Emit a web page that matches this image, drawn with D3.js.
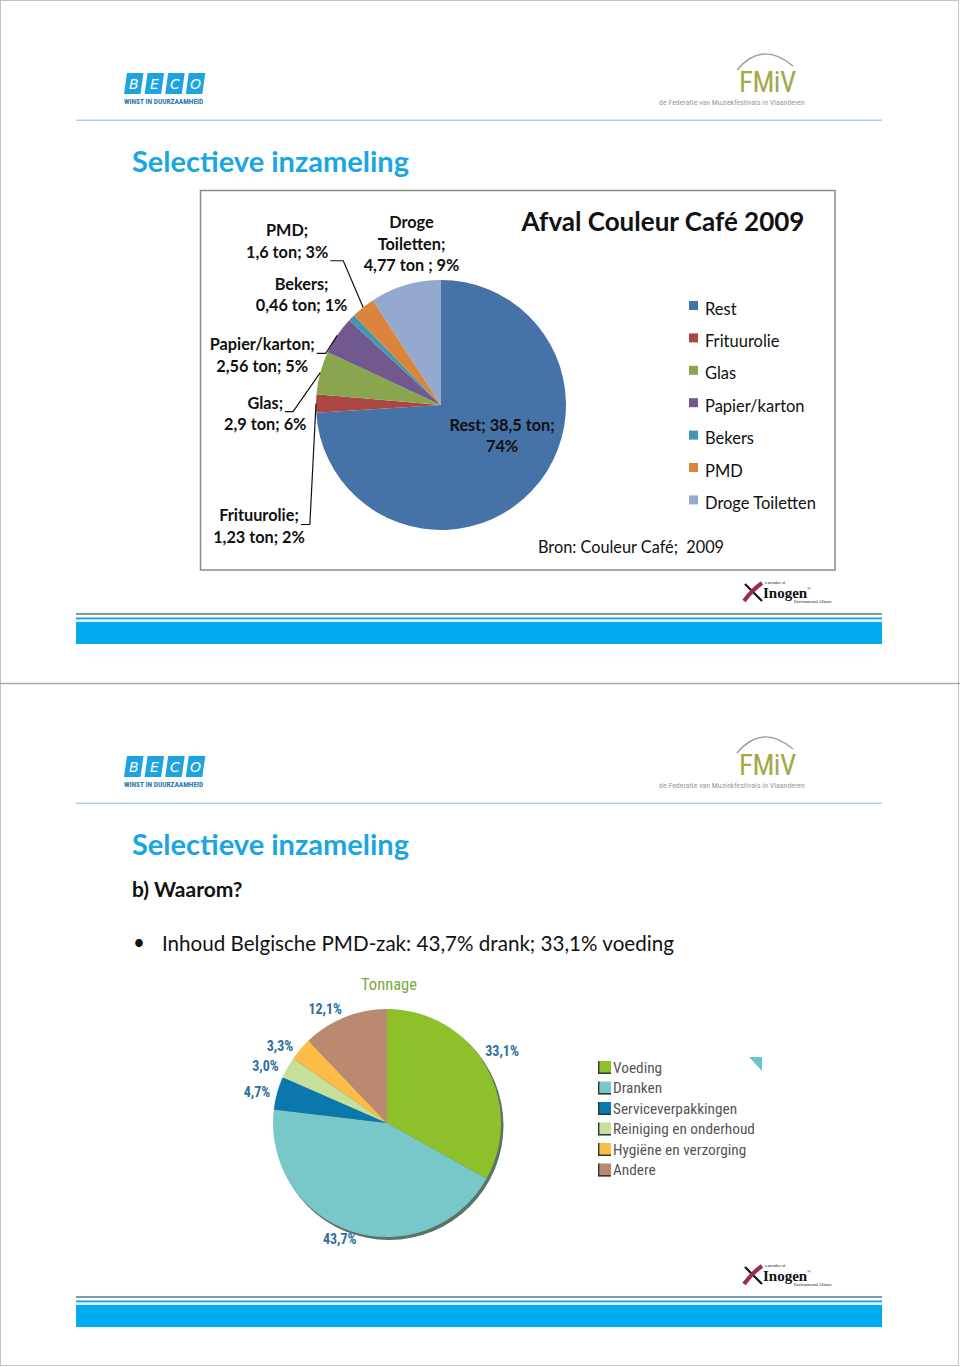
<!DOCTYPE html>
<html>
<head>
<meta charset="utf-8">
<script src="https://cdn.jsdelivr.net/npm/d3@7"></script>
<style>
  html, body { margin: 0; padding: 0; background: #fff; }
  svg { display: block; }
  text { white-space: pre; }
</style>
</head>
<body>
<svg id="page" width="960" height="1367"></svg>
<script>
// ---------------- DATA ----------------
const slideTitle = "Selectieve inzameling";

const pie1Title = "Afval Couleur Café 2009";
const pie1Source = "Bron: Couleur Café;  2009";
const pie1Categories = ["Rest", "Frituurolie", "Glas", "Papier/karton", "Bekers", "PMD", "Droge Toiletten"];
const pie1Values = [38.5, 1.23, 2.9, 2.56, 0.46, 1.6, 4.77];
const pie1Percents = [74, 2, 6, 5, 1, 3, 9];
const pie1LabelLines = [
  ["Rest; 38,5 ton;", "74%"],
  ["Frituurolie;", "1,23 ton; 2%"],
  ["Glas;", "2,9 ton; 6%"],
  ["Papier/karton;", "2,56 ton; 5%"],
  ["Bekers;", "0,46 ton; 1%"],
  ["PMD;", "1,6 ton; 3%"],
  ["Droge", "Toiletten;", "4,77 ton ; 9%"]
];

const slide2Sub = "b) Waarom?";
const slide2Bullet = "Inhoud Belgische PMD-zak: 43,7% drank; 33,1% voeding";
const pie2Title = "Tonnage";
const pie2Categories = ["Voeding", "Dranken", "Serviceverpakkingen", "Reiniging en onderhoud", "Hygiëne en verzorging", "Andere"];
const pie2Values = [33.1, 43.7, 4.7, 3.0, 3.3, 12.1];
const pie2Labels = ["33,1%", "43,7%", "4,7%", "3,0%", "3,3%", "12,1%"];

// ---------------- STYLE / LAYOUT ----------------
const pie1Colors = ["#4572a7", "#aa4643", "#89a54e", "#71588f", "#4198af", "#db843d", "#93a9cf"];
const pie2Colors = ["#8dc02b", "#79c8c9", "#0b78ad", "#c5e09b", "#fbbd48", "#b98a70"];
// label nudges relative to the slice's rim point (x, first baseline)
const pie1Nudge = [[-30, -60], [-57, 118], [-55, 36], [-75, 15], [-50, -28], [-76, -71], [6, -57]];
// leader: [line index, horizontal length] or null
const pie1Leader = [null, [0, 9], [0, 8], [0, 9], null, [1, 13], null];
const pie2Nudge = [[-3, 2], [-5, -9], [2, 10], [-2, 15], [-3, 17], [-11, 18]];

const FONT = "Lato, 'Open Sans', sans-serif";
const NARROW = "'Liberation Sans Narrow', 'Roboto Condensed', Roboto, sans-serif";
const BLUE = "#1aa6e2";

const svg = d3.select("#page");

// page frame
svg.append("rect").attr("x", 0.5).attr("y", 0.5).attr("width", 958).attr("height", 1365)
  .attr("fill", "none").attr("stroke", "#c4c4c4").attr("stroke-width", 1);
svg.append("line").attr("x1", 0).attr("x2", 960).attr("y1", 683.5).attr("y2", 683.5)
  .attr("stroke", "#a9a9a9").attr("stroke-width", 1.5);

// ---------------- slide chrome ----------------
function drawChrome(g) {
  // BECO logo
  const beco = g.append("g").attr("transform", "translate(124,73)");
  ["B", "E", "C", "O"].forEach((ch, i) => {
    const x0 = i * 20.6;
    beco.append("path")
      .attr("d", `M${x0 + 3},0 L${x0 + 19.5},0 L${x0 + 16.5},21 L${x0},21 Z`)
      .attr("fill", "#1ea3e2");
    beco.append("text").attr("x", x0 + 9.8).attr("y", 16).attr("text-anchor", "middle")
      .attr("font-family", "'DejaVu Sans', sans-serif").attr("font-style", "italic")
      .attr("font-size", 14).attr("fill", "#fff").text(ch);
  });
  beco.append("text").attr("x", 0).attr("y", 30.5).attr("font-family", NARROW)
    .attr("font-weight", "bold").attr("font-size", 7.4).attr("fill", "#2a78b0")
    .text("WINST IN DUURZAAMHEID");

  // FMiV logo
  const fm = g.append("g");
  fm.append("path").attr("d", "M737,70 Q762,40 793,66")
    .attr("fill", "none").attr("stroke", "#9a9a9a").attr("stroke-width", 1.3);
  fm.append("text").attr("x", 739).attr("y", 92).attr("font-family", NARROW)
    .attr("font-size", 29).attr("fill", "#a3a848").attr("letter-spacing", -0.5).text("FMiV");
  fm.append("text").attr("x", 659).attr("y", 105).attr("font-family", NARROW)
    .attr("font-size", 7.9).attr("fill", "#9a9a9a")
    .text("de Federatie van Muziekfestivals in Vlaanderen");

  // header rule
  g.append("rect").attr("x", 76).attr("y", 119.5).attr("width", 806).attr("height", 1.5).attr("fill", "#a8d3df");

  // title
  g.append("text").attr("x", 132).attr("y", 172).attr("font-family", FONT).attr("font-weight", "bold")
    .attr("font-size", 29).attr("fill", BLUE).text(slideTitle);

  // Inogen logo
  const ino = g.append("g");
  ino.append("path").attr("d", "M745,584 L762,601").attr("stroke", "#111").attr("stroke-width", 2.2);
  ino.append("path").attr("d", "M744,601 Q752,590 762,583").attr("stroke", "#9c2b4d").attr("stroke-width", 4).attr("fill", "none");
  ino.append("text").attr("x", 763).attr("y", 598).attr("font-family", "'Liberation Serif', serif")
    .attr("font-weight", "bold").attr("font-size", 15).attr("fill", "#111").text("Inogen");
  ino.append("text").attr("x", 807).attr("y", 590).attr("font-family", "'Liberation Serif', serif")
    .attr("font-size", 5).attr("fill", "#111").text("®");
  ino.append("text").attr("x", 765).attr("y", 584).attr("font-family", "'Liberation Serif', serif")
    .attr("font-size", 4).attr("fill", "#111").text("a member of");
  ino.append("text").attr("x", 794).attr("y", 603).attr("font-family", "'Liberation Serif', serif")
    .attr("font-size", 4).attr("fill", "#111").text("Environmental Alliance");

  // footer bars
  g.append("rect").attr("x", 76).attr("y", 613).attr("width", 806).attr("height", 2).attr("fill", "#7c9d9f");
  g.append("rect").attr("x", 76).attr("y", 617.5).attr("width", 806).attr("height", 2).attr("fill", "#1c9fd9");
  g.append("rect").attr("x", 76).attr("y", 619.5).attr("width", 806).attr("height", 2.5).attr("fill", "#d6f1fb");
  g.append("rect").attr("x", 76).attr("y", 622).attr("width", 806).attr("height", 22).attr("fill", "#02acee");
}

const slide1 = svg.append("g");
const slide2 = svg.append("g").attr("transform", "translate(0,683)");
drawChrome(slide1);
drawChrome(slide2);

// ---------------- SLIDE 1 CHART ----------------
slide1.append("rect").attr("x", 200.5).attr("y", 190.5).attr("width", 634.5).attr("height", 379.5)
  .attr("fill", "#fff").attr("stroke", "#8a8a8a").attr("stroke-width", 1.5);

slide1.append("text").attr("x", 663).attr("y", 231).attr("text-anchor", "middle")
  .attr("font-family", FONT).attr("font-weight", "bold").attr("font-size", 26).attr("fill", "#111")
  .text(pie1Title);

const c1 = { x: 441, y: 405 }, r1 = 125;
const color1 = d3.scaleOrdinal().domain(pie1Categories).range(pie1Colors);
const pie1 = d3.pie().sort(null).value(d => d.value);
const arcs1 = pie1(pie1Categories.map((c, i) => ({ cat: c, value: pie1Values[i], i })));
const arc1 = d3.arc().innerRadius(0).outerRadius(r1);
const rim1 = d3.arc().innerRadius(r1).outerRadius(r1);

const p1 = slide1.append("g").attr("transform", `translate(${c1.x},${c1.y})`);
p1.selectAll("path.slice").data(arcs1).join("path").attr("class", "slice")
  .attr("d", arc1).attr("fill", d => color1(d.data.cat));

// labels
const lh1 = 21.5;
arcs1.forEach((d, i) => {
  const rp = rim1.centroid(d);
  const lx = rp[0] + pie1Nudge[i][0], ly = rp[1] + pie1Nudge[i][1];
  const t = p1.append("text").attr("text-anchor", "middle")
    .attr("font-family", FONT).attr("font-weight", "bold").attr("font-size", 16.3).attr("fill", "#111");
  const spans = pie1LabelLines[i].map((ln, k) =>
    t.append("tspan").attr("x", lx).attr("y", ly + k * lh1).text(ln));
  const ld = pie1Leader[i];
  if (ld) {
    const w = spans[ld[0]].node().getComputedTextLength();
    const ex = lx + w / 2 + 2, ey = ly + ld[0] * lh1 + 3;
    p1.append("path")
      .attr("d", d3.line()([[ex, ey], [ex + ld[1], ey], rp]))
      .attr("fill", "none").attr("stroke", "#111").attr("stroke-width", 1.2);
  }
});

// legend
const leg1 = slide1.append("g").attr("transform", "translate(689,308)");
pie1Categories.forEach((c, i) => {
  const row = leg1.append("g").attr("transform", `translate(0,${i * 32.4})`);
  row.append("rect").attr("x", 0).attr("y", -7).attr("width", 9).attr("height", 9).attr("fill", color1(c));
  row.append("text").attr("x", 16).attr("y", 6.5).attr("font-family", FONT).attr("font-size", 16.5)
    .attr("fill", "#111").text(c);
});

slide1.append("text").attr("x", 538).attr("y", 553).attr("font-family", FONT).attr("font-size", 16.3)
  .attr("fill", "#111").text(pie1Source);

// ---------------- SLIDE 2 ----------------
slide2.append("text").attr("x", 132).attr("y", 214).attr("font-family", FONT).attr("font-weight", "bold")
  .attr("font-size", 21).attr("fill", "#111").text(slide2Sub);
slide2.append("text").attr("x", 133).attr("y", 267).attr("font-family", FONT)
  .attr("font-size", 20.6).attr("fill", "#111").text("•");
slide2.append("text").attr("x", 162).attr("y", 268).attr("font-family", FONT)
  .attr("font-size", 20.6).attr("fill", "#111").text(slide2Bullet);

slide2.append("text").attr("x", 389).attr("y", 307).attr("text-anchor", "middle")
  .attr("font-family", NARROW).attr("font-size", 16.5).attr("fill", "#7aa83e").text(pie2Title);

const c2 = { x: 387, y: 440 }, r2 = 114;
const color2 = d3.scaleOrdinal().domain(pie2Categories).range(pie2Colors);
const pie2 = d3.pie().sort(null).value(d => d.value);
const arcs2 = pie2(pie2Categories.map((c, i) => ({ cat: c, value: pie2Values[i], i })));
const arc2 = d3.arc().innerRadius(0).outerRadius(r2);
const lab2 = d3.arc().innerRadius(r2 * 1.2).outerRadius(r2 * 1.2);

const p2 = slide2.append("g").attr("transform", `translate(${c2.x},${c2.y})`);
p2.append("circle").attr("cx", 2).attr("cy", 2.5).attr("r", r2 + 0.5).attr("fill", "#3d5a4a").attr("opacity", 0.85);
p2.selectAll("path.slice").data(arcs2).join("path").attr("class", "slice")
  .attr("d", arc2).attr("fill", d => color2(d.data.cat));

arcs2.forEach((d, i) => {
  const c = lab2.centroid(d);
  p2.append("text").attr("x", c[0] + pie2Nudge[i][0]).attr("y", c[1] + pie2Nudge[i][1])
    .attr("text-anchor", "middle").attr("font-family", NARROW).attr("font-weight", "bold")
    .attr("font-size", 14).attr("fill", "#2f6f9f")
    .text(pie2Labels[i]);
});

const leg2 = slide2.append("g").attr("transform", "translate(598,378)");
pie2Categories.forEach((c, i) => {
  const row = leg2.append("g").attr("transform", `translate(0,${i * 20.5})`);
  row.append("rect").attr("x", 0).attr("y", 0).attr("width", 13).attr("height", 13).attr("fill", color2(c));
  row.append("path").attr("d", "M0.7,0 V12.3 H13").attr("fill", "none").attr("stroke", "#2b3b33").attr("stroke-width", 1.4);
  row.append("text").attr("x", 15).attr("y", 11.5).attr("font-family", NARROW).attr("font-size", 15.3)
    .attr("fill", "#555").text(c);
});
// decorative corner mark
slide2.append("path").attr("d", "M749,374 L762,374 L762,388 Z").attr("fill", "#6cc3c8");
</script>
</body>
</html>
